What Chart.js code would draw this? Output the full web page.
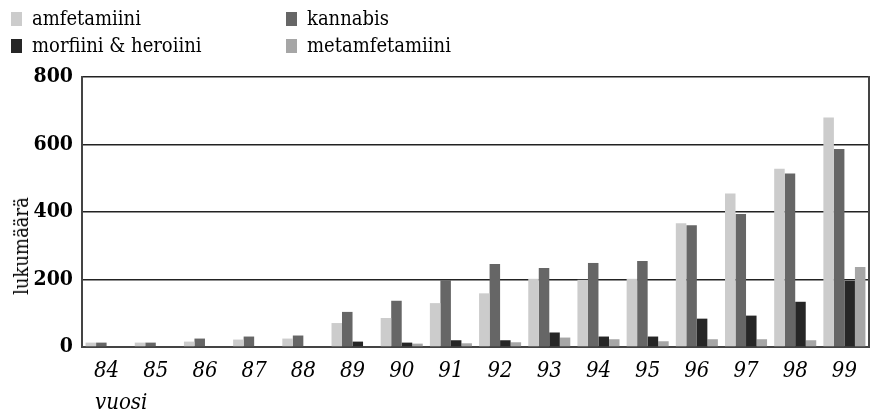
<!DOCTYPE html>
<html>
<head>
<meta charset="utf-8">
<script src="https://cdn.jsdelivr.net/npm/chart.js@4"></script>
<style>
  body { margin: 0; background: #fff; }
  #wrap { position: relative; width: 872px; height: 417px; }
  #legend { position: absolute; left: 0; top: 0; font-family: "DejaVu Serif Condensed", "DejaVu Serif", serif; font-stretch: condensed; font-size: 20px; color: #000; }
  .item { position: absolute; white-space: nowrap; line-height: 22px; }
  .box { position: absolute; width: 11px; height: 14px; }
  #ytitle { position: absolute; left: 21px; top: 246px; font-family: "DejaVu Serif Condensed", "DejaVu Serif", serif; font-stretch: condensed; font-size: 20px;
    transform: translate(-50%, -50%) rotate(-90deg); white-space: nowrap; }
  #xtitle { position: absolute; left: 95px; top: 389px; font-family: "DejaVu Serif Condensed", "DejaVu Serif", serif; font-stretch: condensed;
    font-size: 22px; font-style: italic; line-height: 26px; }
</style>
</head>
<body>
<div id="wrap">
  <canvas id="chart" width="872" height="417"></canvas>
  <div id="legend"></div>
  <div id="ytitle">lukumäärä</div>
  <div id="xtitle">vuosi</div>
</div>
<script>
const years = ['84', '85', '86', '87', '88', '89', '90', '91', '92', '93', '94', '95', '96', '97', '98', '99'];
const amfetamiini = [13, 13, 16, 22, 25, 71, 86, 130, 159, 202, 199, 202, 367, 455, 528, 680];
const kannabis = [13, 13, 25, 31, 34, 104, 137, 198, 246, 234, 249, 255, 361, 394, 514, 587];
const morfiiniHeroiini = [0, 0, 0, 0, 0, 16, 13, 20, 20, 43, 31, 31, 84, 93, 134, 196];
const metamfetamiini = [0, 0, 0, 0, 0, 0, 10, 11, 14, 28, 23, 17, 23, 23, 20, 237];
const yTicks = [0, 200, 400, 600, 800];

const datasets = [
  { label: 'amfetamiini', data: amfetamiini, backgroundColor: '#cccccc' },
  { label: 'kannabis', data: kannabis, backgroundColor: '#666666' },
  { label: 'morfiini & heroiini', data: morfiiniHeroiini, backgroundColor: '#262626' },
  { label: 'metamfetamiini', data: metamfetamiini, backgroundColor: '#a6a6a6' }
];

// legend laid out as in the print: two columns, two rows (grid order 0,1 / 2,3)
const legendSpots = [[11, 12], [286, 12], [11, 39], [286, 39]];
const legendEl = document.getElementById('legend');
datasets.forEach((ds, i) => {
  const [x, y] = legendSpots[i];
  const box = document.createElement('div');
  box.className = 'box';
  box.style.left = x + 'px';
  box.style.top = y + 'px';
  box.style.background = ds.backgroundColor;
  legendEl.appendChild(box);
  const txt = document.createElement('div');
  txt.className = 'item';
  txt.style.left = (x + 21) + 'px';
  txt.style.top = (y - 5) + 'px';
  txt.textContent = ds.label;
  legendEl.appendChild(txt);
});

const serif = '"DejaVu Serif Condensed", "DejaVu Serif", serif';

new Chart(document.getElementById('chart').getContext('2d'), {
  type: 'bar',
  data: { labels: years, datasets: datasets },
  options: {
    responsive: false,
    animation: false,
    layout: { padding: { left: 0, top: 77, right: 3, bottom: 0 } },
    datasets: { bar: { barPercentage: 1, categoryPercentage: 0.855 } },
    plugins: { legend: { display: false }, tooltip: { enabled: false } },
    scales: {
      x: {
        grid: { display: false, drawTicks: false },
        border: { color: '#444', width: 2 },
        ticks: { color: '#000', padding: 11, font: { family: serif, size: 22, style: 'italic' } },
        afterFit: (s) => { s.height = 70; }
      },
      y: {
        min: 0,
        max: 800,
        afterBuildTicks: (s) => { s.ticks = yTicks.map(v => ({ value: v })); },
        grid: { color: '#222', lineWidth: 1.5, drawTicks: false },
        border: { color: '#444', width: 2 },
        ticks: { color: '#000', padding: 9, font: { family: serif, size: 21, weight: 'bold' } },
        afterFit: (s) => { s.width = 82; }
      },
      y2: {
        position: 'right',
        grid: { display: false, drawTicks: false },
        ticks: { display: false },
        border: { color: '#444', width: 2 },
        afterFit: (s) => { s.width = 0; }
      }
    }
  }
});
</script>
</body>
</html>
